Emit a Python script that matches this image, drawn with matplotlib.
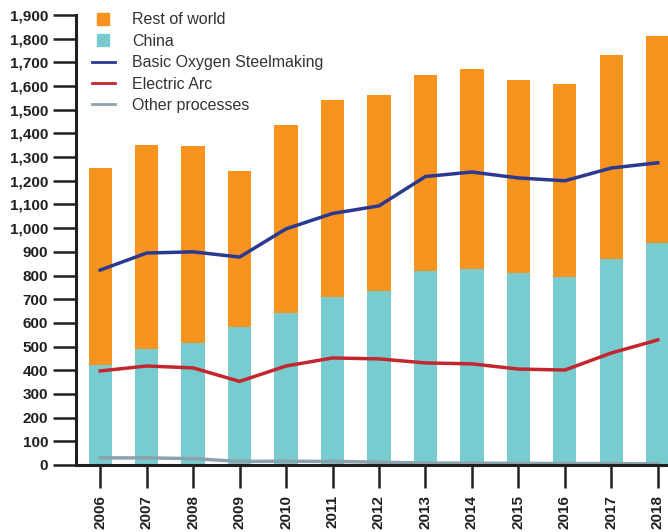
import matplotlib
matplotlib.use("Agg")
import matplotlib.pyplot as plt
import numpy as np
from matplotlib.lines import Line2D
from matplotlib.ticker import FuncFormatter

# crude steel production, million tonnes
years = ['2006', '2007', '2008', '2009', '2010', '2011', '2012',
         '2013', '2014', '2015', '2016', '2017', '2018']
china = [422, 490, 515, 583, 642, 709, 735, 819, 828, 811, 794, 870, 938]
total = [1252, 1350, 1345, 1240, 1435, 1540, 1562, 1647, 1672, 1625, 1608, 1731, 1812]
bos = [823, 895, 900, 878, 997, 1062, 1094, 1218, 1237, 1212, 1200, 1254, 1276]
eaf = [397, 418, 410, 353, 418, 452, 448, 431, 427, 405, 401, 473, 528]
other = [30, 30, 27, 15, 16, 15, 12, 8, 8, 7, 6, 6, 5]

rest = [t - c for t, c in zip(total, china)]

c_rest = '#F7931E'
c_china = '#78CCCF'
c_bos = '#2B3990'
c_eaf = '#C1272D'
c_other = '#8CA3AE'

plt.rcParams['font.family'] = ['Liberation Sans', 'DejaVu Sans']

fig = plt.figure(figsize=(6.68, 5.32), dpi=100)
ax = fig.add_axes([76 / 668, 67 / 532, 1 - 76 / 668, 450 / 532])

x = np.arange(len(years))
ax.bar(x, china, width=0.5, color=c_china, zorder=2)
ax.bar(x, rest, width=0.5, bottom=china, color=c_rest, zorder=2)
ax.plot(x, bos, color=c_bos, lw=2.5, zorder=3)
ax.plot(x, eaf, color=c_eaf, lw=2.5, zorder=3)
ax.plot(x, other, color=c_other, lw=2.5, zorder=3)

ax.set_xlim(-0.52, 12.22)
ax.set_ylim(0, 1900)
ax.set_yticks(range(0, 2000, 100))
ax.yaxis.set_major_formatter(FuncFormatter(lambda v, p: f'{int(v):,}'))
ax.set_xticks(x)
ax.set_xticklabels(years, rotation=90)

for s in ['top', 'right']:
    ax.spines[s].set_visible(False)
for s in ['left', 'bottom']:
    ax.spines[s].set_linewidth(2.2)
    ax.spines[s].set_color('#231F20')
    ax.spines[s].set_zorder(4)

ax.tick_params(axis='both', length=16.5, width=1.8, color='#231F20',
               labelsize=11, labelcolor='#231F20', pad=3.5)
ax.tick_params(axis='x', pad=5)
for lab in ax.get_xticklabels() + ax.get_yticklabels():
    lab.set_fontweight('bold')

handles = [
    Line2D([], [], ls='none', marker='s', ms=8, color=c_rest, label='Rest of world'),
    Line2D([], [], ls='none', marker='s', ms=8, color=c_china, label='China'),
    Line2D([], [], color=c_bos, lw=2, label='Basic Oxygen Steelmaking'),
    Line2D([], [], color=c_eaf, lw=2, label='Electric Arc'),
    Line2D([], [], color=c_other, lw=2, label='Other processes'),
]
leg = ax.legend(handles=handles, loc='upper left', bbox_to_anchor=(0.016, 1.02),
                frameon=False, fontsize=11.5, handlelength=1.45,
                handletextpad=1.05, labelspacing=0.4, borderaxespad=0)
for t in leg.get_texts():
    t.set_color('#333333')

fig.savefig('out.png', dpi=100)
